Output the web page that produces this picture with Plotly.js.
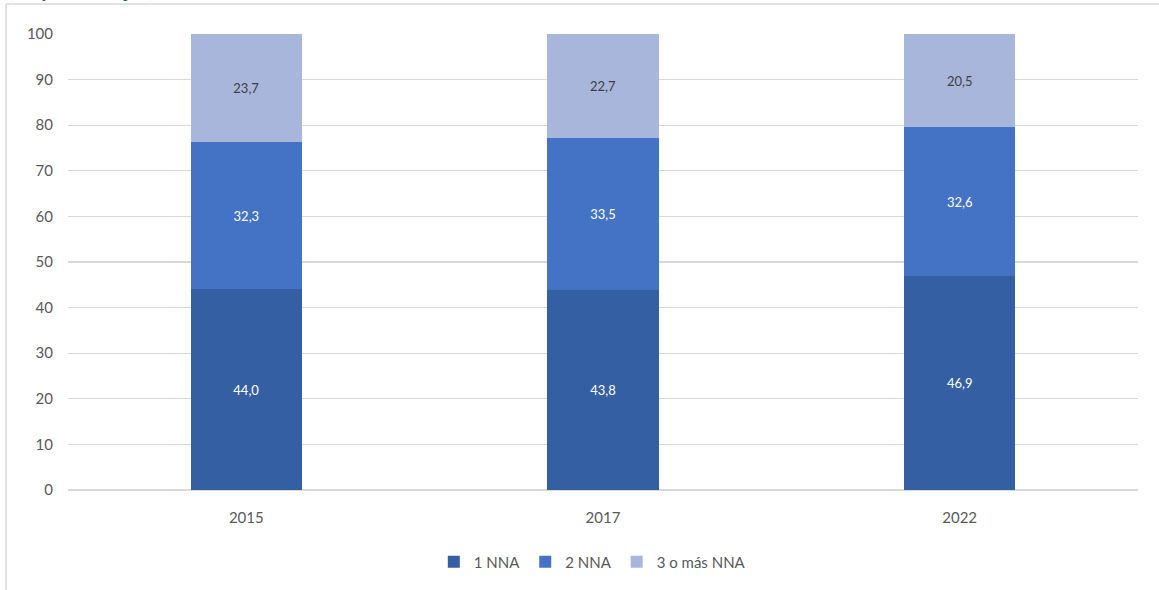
<!DOCTYPE html>
<html><head><meta charset="utf-8">
<script src="https://cdn.plot.ly/plotly-3.0.1.min.js"></script>
<style>html,body{margin:0;padding:0;background:#fff;}#chart{width:1159px;height:590px;}</style>
</head><body><div id="chart"></div>
<script>
const years = ['2015', '2017', '2022'];
const seriesNames = ['1 NNA', '2 NNA', '3 o más NNA'];
const nna1 = [44.0, 43.8, 46.9];
const nna2 = [32.3, 33.5, 32.6];
const nna3 = [23.7, 22.7, 20.5];
const yTicks = [0, 10, 20, 30, 40, 50, 60, 70, 80, 90, 100];
const titleText = '(en porcentajes)';

const colors = ['#355FA3', '#4472C4', '#A9B6DB'];
const textColors = ['#ffffff', '#ffffff', '#404040'];
const fmt = v => v.toFixed(1).replace('.', ',');
const font = 'Lato, "Open Sans", sans-serif';

const data = [nna1, nna2, nna3].map((vals, i) => ({
  type: 'bar',
  name: seriesNames[i],
  x: years,
  y: vals,
  text: vals.map(fmt),
  textposition: 'inside',
  insidetextanchor: 'middle',
  textangle: 0,
  textfont: {family: font, size: 13, color: textColors[i]},
  marker: {color: colors[i], line: {width: 0}},
  hoverinfo: 'skip'
}));

const layout = {
  width: 1159, height: 590,
  margin: {l: 68, r: 21, t: 34, b: 100},
  barmode: 'stack',
  bargap: 0.688,
  paper_bgcolor: '#ffffff',
  plot_bgcolor: '#ffffff',
  font: {family: font, size: 15, color: '#595959'},
  showlegend: true,
  legend: {orientation: 'h', x: 0.49, xanchor: 'center', y: -0.158, yanchor: 'middle',
           font: {family: font, size: 15, color: '#595959'}, traceorder: 'normal',
           itemwidth: 30},
  xaxis: {type: 'category', showgrid: false, zeroline: false, showline: false,
          ticks: '', tickfont: {family: font, size: 15, color: '#595959'}, ticklabelstandoff: 17},
  yaxis: {range: [0, 100], tickvals: yTicks, ticktext: yTicks.map(String),
          showgrid: true, gridcolor: '#d9d9d9', gridwidth: 1.3,
          zeroline: true, zerolinecolor: '#d9d9d9', zerolinewidth: 1.3,
          showline: false, ticks: '', ticklabelstandoff: 14,
          tickfont: {family: font, size: 15, color: '#595959'}},
  shapes: [
    {type: 'line', xref: 'paper', yref: 'paper', x0: -0.0579, x1: 1.03, y0: 1.0658, y1: 1.0658,
     line: {color: '#d9d9d9', width: 1.5}},
    {type: 'line', xref: 'paper', yref: 'paper', x0: -0.0579, x1: -0.0579, y0: 1.0658, y1: -0.22,
     line: {color: '#d9d9d9', width: 1.5}}
  ],
  annotations: [
    {text: '<b>' + titleText + '</b>', xref: 'paper', yref: 'paper', x: -0.0575, xanchor: 'left',
     y: 1.0669, yanchor: 'bottom', showarrow: false,
     font: {family: font, size: 21, color: '#2F5597'}}
  ]
};

Plotly.newPlot('chart', data, layout, {displayModeBar: false, staticPlot: true});
</script></body></html>
